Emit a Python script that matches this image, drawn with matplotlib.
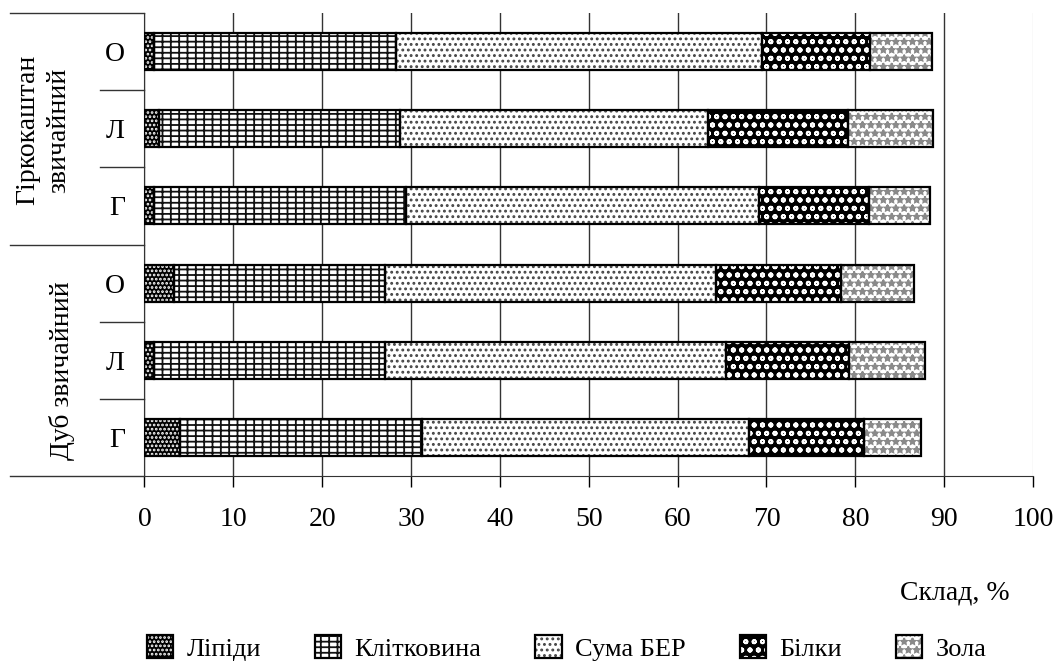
import matplotlib
matplotlib.use("Agg")
import matplotlib.pyplot as plt
import matplotlib.transforms as mtransforms
from matplotlib.legend_handler import HandlerTuple

# rows from bottom to top: Дуб Г, Л, О, then Гіркокаштан Г, Л, О
species = ["Дуб звичайний", "Гіркокаштан\nзвичайний"]
organs = ["Г", "Л", "О"]
components = ["Ліпіди", "Клітковина", "Сума БЕР", "Білки", "Зола"]

lipids = [4.0, 1.1, 3.3, 1.1, 1.6, 1.1]
cellulose = [27.2, 26.0, 23.8, 28.3, 27.2, 27.2]
ber_sum = [36.8, 38.4, 37.2, 39.8, 34.6, 41.2]
proteins = [13.0, 13.8, 14.1, 12.3, 15.8, 12.2]
ash = [6.4, 8.5, 8.2, 6.9, 9.5, 6.9]

x_ticks = list(range(0, 101, 10))

plt.rcParams["font.family"] = ["Liberation Serif", "DejaVu Serif"]
plt.rcParams["font.size"] = 20
plt.rcParams["hatch.linewidth"] = 1.3

# (face colour, hatch, hatch colour) for every component
styles = [
    ("black", "....", "white"),
    ("white", "---||", "#111111"),
    ("white", "...", "#444444"),
    ("black", "oo", "white"),
    ("white", "**", "#8a8a8a"),
]

fig = plt.figure(figsize=(10.57, 6.61), dpi=100)
ax = fig.add_axes([0.1367, 0.2799, 0.8406, 0.7004])

series = [lipids, cellulose, ber_sum, proteins, ash]
rows = list(range(len(lipids)))
left = [0.0] * len(rows)
handles = []
for name, vals, (face, hatch, hcol) in zip(components, series, styles):
    fill = ax.barh(rows, vals, left=left, height=0.48, color=face,
                   hatch=hatch, edgecolor=hcol, linewidth=0, zorder=2)
    edge = ax.barh(rows, vals, left=left, height=0.48, fill=False,
                   edgecolor="black", linewidth=1.6, zorder=3)
    handles.append((fill[0], edge[0]))
    left = [a + b for a, b in zip(left, vals)]

ax.set_xlim(0, 100)
ax.set_ylim(-0.5, len(rows) - 0.5)
ax.set_xticks(x_ticks)
ax.tick_params(axis="x", direction="out", length=8, width=1, pad=14)
ax.set_yticks(rows, organs * 2)
ax.tick_params(axis="y", length=0, pad=14)

ax.grid(axis="x", color="#333333", linewidth=1)
ax.get_xgridlines()[-1].set_color("#e4e4e4")
ax.set_axisbelow(True)
for side in ["top", "right"]:
    ax.spines[side].set_visible(False)
ax.spines["left"].set_color("#333333")
ax.spines["bottom"].set_color("#333333")

# table-like separators on the left side
trans = mtransforms.blended_transform_factory(fig.transFigure, ax.transData)
x_axis = 0.1367
for y in [-0.5, 2.5, 5.5]:
    ax.plot([0.0095, x_axis], [y, y], color="#333333", lw=1,
            transform=trans, clip_on=False)
for y in [0.5, 1.5, 3.5, 4.5]:
    ax.plot([0.0946, x_axis], [y, y], color="#333333", lw=1,
            transform=trans, clip_on=False)

fig.text(0.0587, 0.87, species[0], rotation=90, ha="center", va="center",
         transform=trans)
fig.text(0.0407, 3.98, species[1], rotation=90, ha="center", va="center",
         linespacing=1.3, transform=trans)

fig.text(0.903, 0.103, "Склад, %", ha="center", va="center")

fig.legend(handles, components,
           handler_map={tuple: HandlerTuple(ndivide=1, pad=0)},
           loc="center", bbox_to_anchor=(0.536, 0.02), ncol=5, frameon=False,
           handlelength=1.0, handleheight=1.0, handletextpad=0.5,
           columnspacing=2.05, fontsize=19)

fig.savefig("out.png", dpi=100)
